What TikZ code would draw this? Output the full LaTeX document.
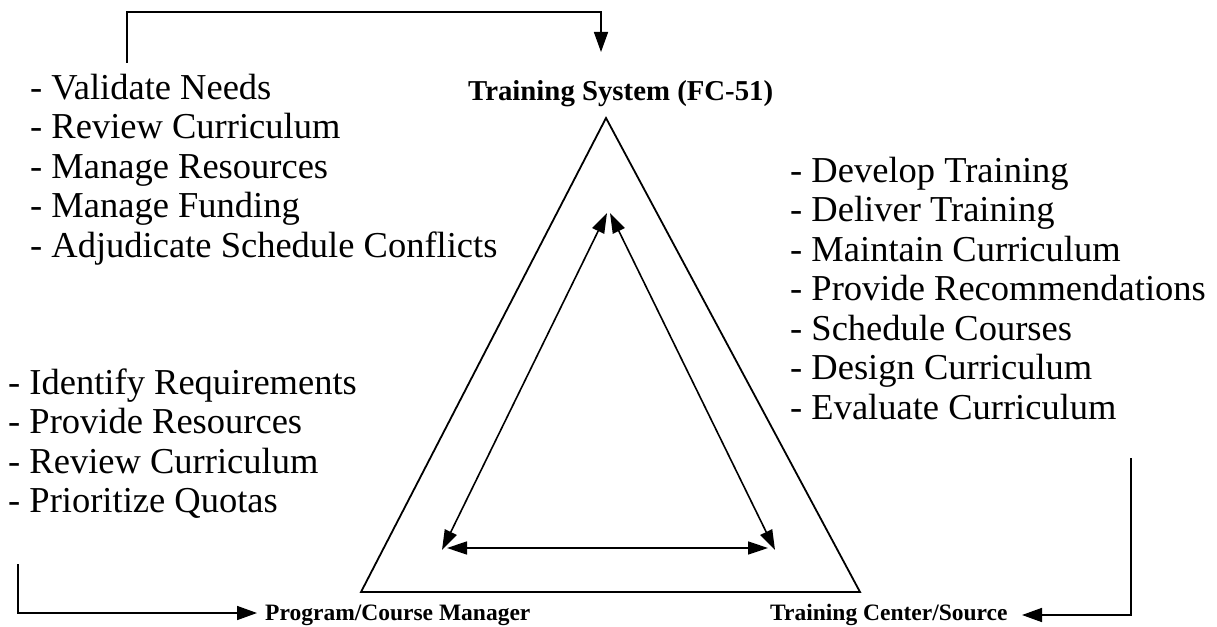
\documentclass[tikz,border=0pt]{standalone}
\usepackage{fontspec}
\setmainfont{Liberation Serif}
\usetikzlibrary{arrows.meta}
\begin{document}
\begin{tikzpicture}[x=1pt,y=-1pt,
  ln/.style={line width=1.8pt, line join=miter},
  arr/.style={line width=1.6pt, -{Triangle[length=20pt,width=14pt]}},
  darr/.style={line width=1.6pt, {Triangle[length=20pt,width=13pt]}-{Triangle[length=20pt,width=13pt]}},
  lst/.style={anchor=base west, inner sep=0pt, font=\fontsize{36.5}{39.5}\selectfont},
  big/.style={anchor=base west, inner sep=0pt, font=\fontsize{28.8}{30}\selectfont\bfseries},
  small/.style={anchor=base west, inner sep=0pt, font=\fontsize{23.5}{25}\selectfont\bfseries}]
\useasboundingbox (0,0) rectangle (1217,626);

% triangle
\coordinate (A) at (606,118);
\coordinate (B) at (361,592);
\coordinate (C) at (860,592);
\draw[ln] (A) -- (B) -- (C) -- cycle;

% inner arrows
\coordinate (ia) at (607,213);
\coordinate (ib) at (610,213);
\coordinate (il) at (442,550);
\coordinate (ir) at (775,550);
\coordinate (hl) at (447,548);
\coordinate (hr) at (768,548);
\draw[darr] (ia) -- (il);
\draw[darr] (ib) -- (ir);
\draw[darr] (hl) -- (hr);

% labels
\node[big] (ts) at (468,100) {Training System (FC-51)};
\node[small] (pcm) at (265,620) {Program/Course Manager};
\node[small] (tcs) at (770,620) {Training Center/Source};

% lists
\foreach \t [count=\i from 0] in {Validate Needs,Review Curriculum,Manage Resources,Manage Funding,Adjudicate Schedule Conflicts}
  \node[lst] (a\i) at (30,99+39.5*\i) {- \t};
\foreach \t [count=\i from 0] in {Develop Training,Deliver Training,Maintain Curriculum,Provide Recommendations,Schedule Courses,Design Curriculum,Evaluate Curriculum}
  \node[lst] (b\i) at (790,182+39.5*\i) {- \t};
\foreach \t [count=\i from 0] in {Identify Requirements,Provide Resources,Review Curriculum,Prioritize Quotas}
  \node[lst] (c\i) at (8,394+39.5*\i) {- \t};

% connectors
\coordinate (s1) at (127,63);
\coordinate (e1) at (601,52);
\draw[arr] (s1) |- (601,12) -- (e1);
\coordinate (s2) at (18,564);
\coordinate (e2) at (257,613);
\draw[arr] (s2) |- (e2);
\coordinate (s3) at (1131,458);
\coordinate (e3) at (1022,615);
\draw[arr] (s3) |- (e3);
\end{tikzpicture}
\end{document}
